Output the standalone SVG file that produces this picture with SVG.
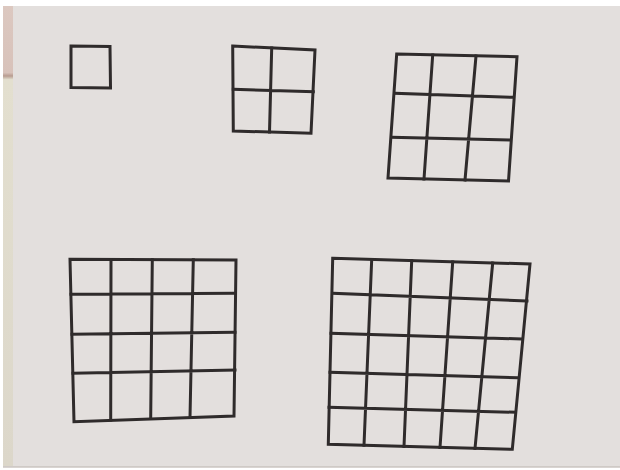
<svg xmlns="http://www.w3.org/2000/svg" width="620" height="470" viewBox="0 0 620 470">
<defs>
<style>
.g{fill:none;stroke:#2f2b2b;stroke-width:3;stroke-linecap:square;stroke-linejoin:miter}
</style>
<linearGradient id="strip" x1="0" y1="0" x2="0" y2="1">
<stop offset="0" stop-color="#dcc8c0"/>
<stop offset="0.145" stop-color="#d8c2ba"/>
<stop offset="0.152" stop-color="#b89c90"/>
<stop offset="0.16" stop-color="#e3dfcf"/>
<stop offset="1" stop-color="#dcd7ca"/>
</linearGradient>
</defs>
<rect x="0" y="0" width="620" height="470" fill="#ffffff"/>
<rect x="3" y="6" width="617" height="462" fill="#e3dfdd"/>
<rect x="3" y="466" width="617" height="1.5" fill="#cfcac6"/>
<rect x="3" y="6" width="10" height="460" fill="url(#strip)"/>
<g id="grid1">
<path class="g" d="M71,46 L110,46.5 L110.5,88 L71,87.5 Z"/>
</g>
<g id="grid2">
<path class="g" d="M232.7,46 L315,50 L311,133.3 L233.3,131 Z"/>
<path class="g" d="M271.7,48 L269.5,132 M233.3,89.3 L313.3,91.7"/>
</g>
<g id="grid3">
<path class="g" d="M396.7,54 L517,56.7 L508.5,181 L388,178 Z"/>
<path class="g" d="M432.7,55 L424,179 M476,56 L465,180 M395,93.3 L513,97.3 M391.7,137.3 L510,140"/>
</g>
<g id="grid4">
<path class="g" d="M70,259.3 L236,260 L234,416 L74,421.7 Z"/>
<path class="g" d="M111,259.5 L110.7,420 M152.3,259.7 L150.7,418 M193.3,259.8 L190,417.5 M71,294.3 L235,293.3 M72,334.3 L235,332.3 M73,373.3 L235,370"/>
</g>
<g id="grid5">
<path class="g" d="M332.7,258.3 L530,264 L512.3,449.3 L328.3,444.3 Z"/>
<path class="g" d="M371.7,259.5 L364,445.3 M411.7,260.6 L404,446.5 M452.7,261.8 L440,447.5 M492.7,263 L475,448.3 M333,293.3 L527,301 M331,333.3 L522,339 M330,372.3 L518,377.7 M329,407.3 L515,412.3"/>
</g>
</svg>
